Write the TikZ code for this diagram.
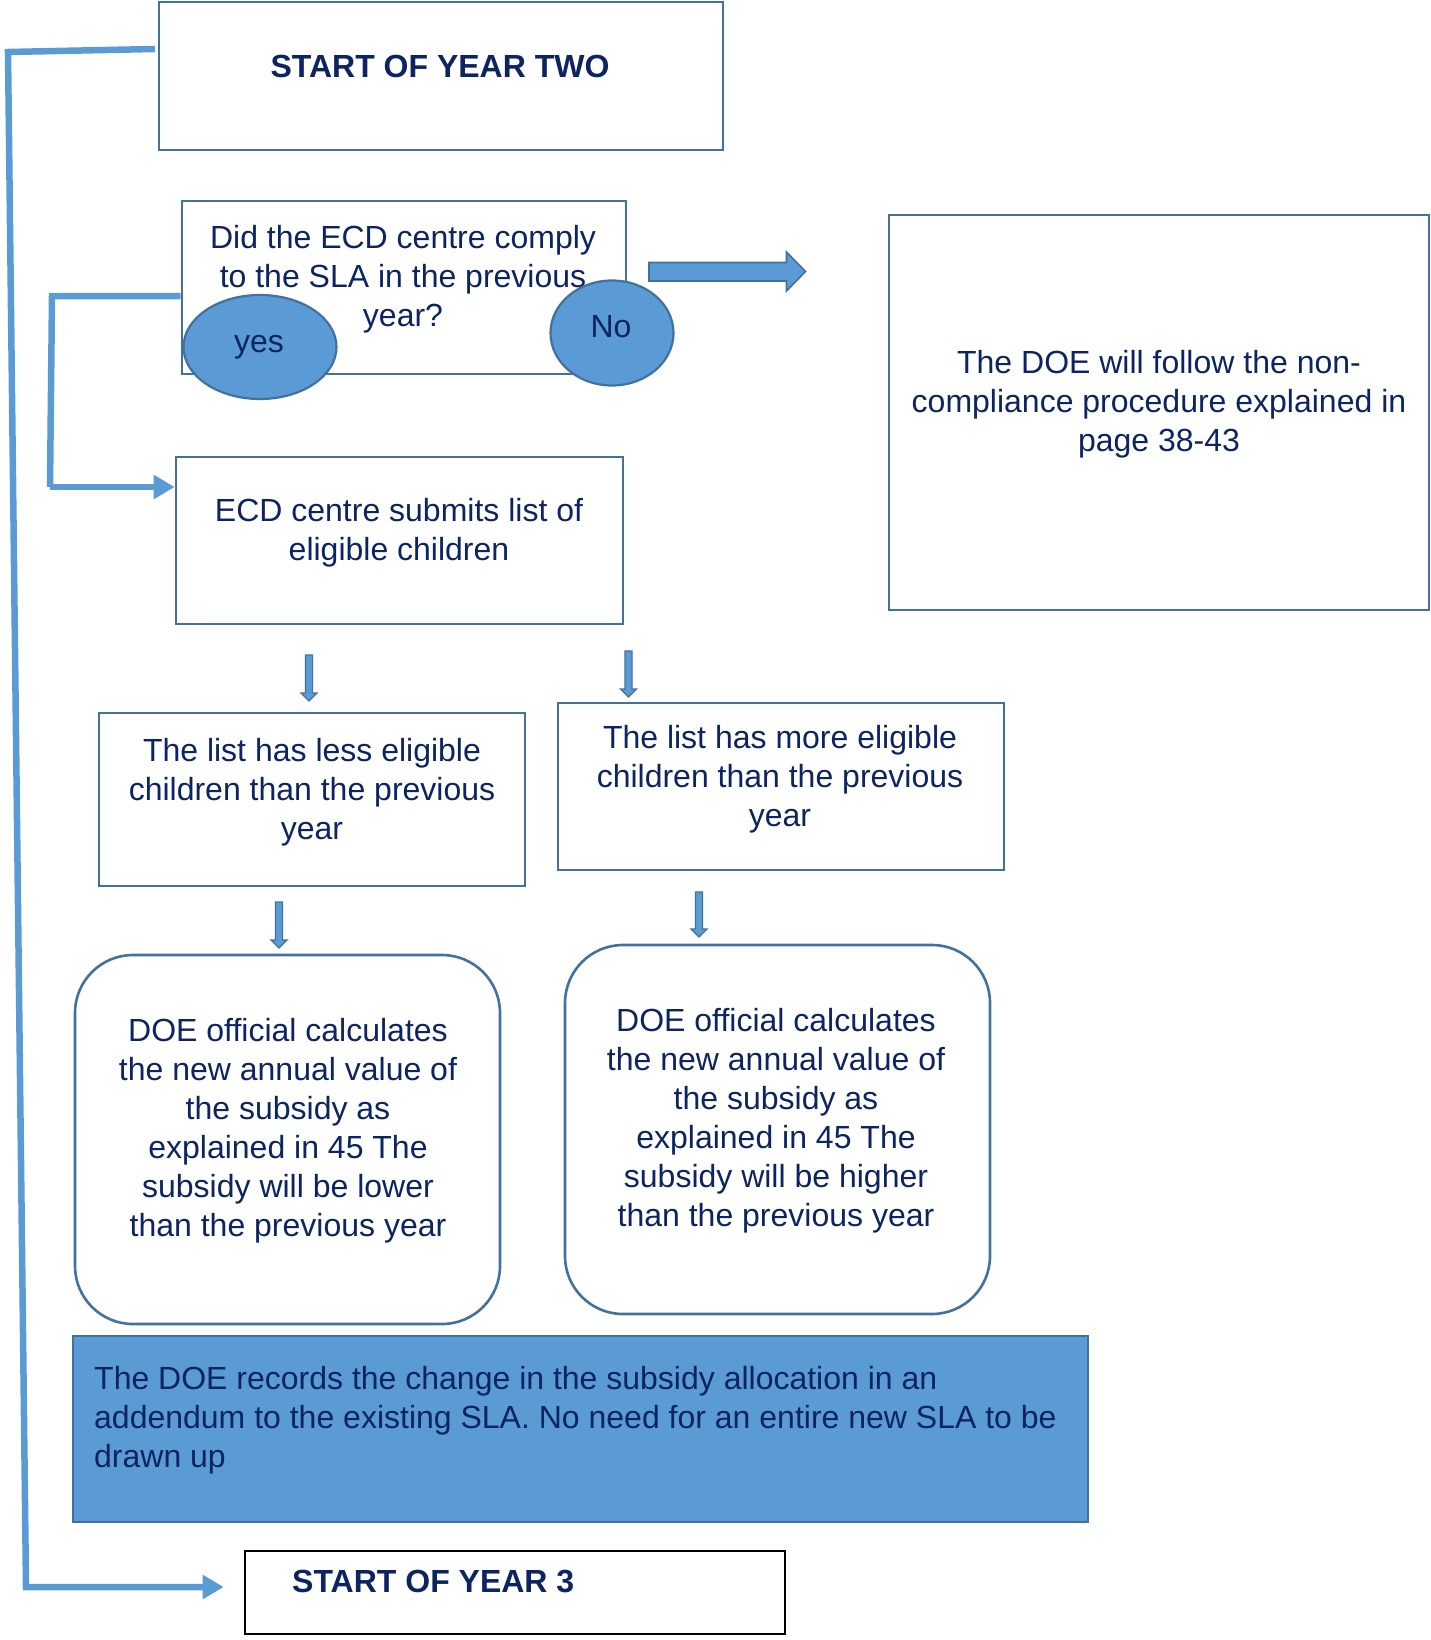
\documentclass[tikz,border=0pt]{standalone}
\usepackage{fontspec}
\setmainfont{Liberation Sans}
\usetikzlibrary{arrows.meta,shapes.geometric}
\definecolor{bord}{RGB}{65,113,156}
\definecolor{bfill}{RGB}{91,155,213}
\definecolor{navy}{RGB}{12,36,98}
\newcommand\dnarrow[3]{%
  \draw[bord,line width=1.3pt,fill=bfill,line join=miter]
    (#1-3.5,#2) -- (#1+3.5,#2) -- (#1+3.5,#3-8) -- (#1+8,#3-8) -- (#1,#3)
    -- (#1-8,#3-8) -- (#1-3.5,#3-8) -- cycle;}
\begin{document}
\begin{tikzpicture}[x=1pt,y=-1pt,
  box/.style={draw=bord,line width=2.6pt,fill=white,inner sep=0pt},
  rbox/.style={box,rounded corners=58pt},
  oval/.style={ellipse,draw=bord,line width=2.2pt,fill=bfill,inner sep=0pt},
  txt/.style={text=navy,align=center,inner sep=0pt,font=\fontsize{32}{39}\selectfont},
  btxt/.style={text=navy,inner sep=0pt,font=\fontsize{32}{39}\selectfont\bfseries},
  conn/.style={draw=bfill,line width=6.5pt,line join=miter},
  tip/.style={-{Triangle[length=21pt,width=23pt]}}]
\useasboundingbox (0,0) rectangle (1431,1640);
% boxes
\node[box,minimum width=564pt,minimum height=148pt] (b1) at (441,76) {};
\node[btxt] (t1) at (440,66) {START OF YEAR TWO};
\node[box,minimum width=444pt,minimum height=173pt] (b2) at (404,287.5) {};
\node[txt] (t2) at (403,279) {Did the ECD centre comply\\to the SLA in the previous\\year?};
\node[oval,minimum width=153pt,minimum height=104pt] (yes) at (260,347) {};
\node[txt] (tyes) at (259,347) {yes};
\node[oval,minimum width=123pt,minimum height=105pt] (no) at (612,333) {};
\node[txt] (tno) at (611,327) {No};
\node[box,minimum width=447pt,minimum height=167pt] (b3) at (399.5,540.5) {};
\node[txt] (t3) at (399,532.5) {ECD centre submits list of\\eligible children};
\node[box,minimum width=540pt,minimum height=395pt] (br) at (1159,412.5) {};
\node[txt] (tr) at (1159,404) {The DOE will follow the non-\\compliance procedure explained in\\page 38-43};
\node[box,minimum width=426pt,minimum height=173pt] (b4) at (312,799.5) {};
\node[txt] (t4) at (312,792) {The list has less eligible\\children than the previous\\year};
\node[box,minimum width=446pt,minimum height=167pt] (b5) at (781,786.5) {};
\node[txt] (t5) at (780,779) {The list has more eligible\\children than the previous\\year};
\node[rbox,minimum width=425pt,minimum height=369pt] (b6) at (287.5,1139.5) {};
\node[txt] (t6) at (288,1130.5) {DOE official calculates\\the new annual value of\\the subsidy as\\explained in 45 The\\subsidy will be lower\\than the previous year};
\node[rbox,minimum width=425pt,minimum height=369pt] (b7) at (777.5,1129.5) {};
\node[txt] (t7) at (776,1121) {DOE official calculates\\the new annual value of\\the subsidy as\\explained in 45 The\\subsidy will be higher\\than the previous year};
\node[box,fill=bfill,minimum width=1015pt,minimum height=186pt] (b8) at (580.5,1429) {};
\node[txt,align=left,anchor=west] (t8) at (94,1420) {The DOE records the change in the subsidy allocation in an\\addendum to the existing SLA. No need for an entire new SLA to be\\drawn up};
\node[draw=black,line width=2.6pt,inner sep=0pt,minimum width=540pt,minimum height=83pt] (b9) at (515,1592.5) {};
\node[btxt,anchor=west] (t9) at (292,1581) {START OF YEAR 3};
% fat arrow to the right box
\draw[bord,line width=1.6pt,fill=bfill,line join=miter]
  (649,262.5) -- (786.5,262.5) -- (786.5,252) -- (805.5,271.5) -- (786.5,291)
  -- (786.5,281) -- (649,281) -- cycle;
% small down arrows
\dnarrow{309}{655}{701}
\dnarrow{628.5}{651}{697}
\dnarrow{279}{902}{948}
\dnarrow{699}{892}{937}
% connectors
\coordinate (c1) at (155,49);
\coordinate (c2) at (8,52);
\coordinate (c3) at (26,1587);
\draw[conn,tip,shorten >=20pt] (c1) -- (c2) -- (c3) -- (c3 -| b9.west);
\coordinate (y1) at (52,296);
\coordinate (y2) at (50,487);
\draw[conn] (b2.west |- y1) -- (y1) -- (y2);
\draw[conn,tip] (y2) -- (y2 -| b3.west);
\end{tikzpicture}
\end{document}
